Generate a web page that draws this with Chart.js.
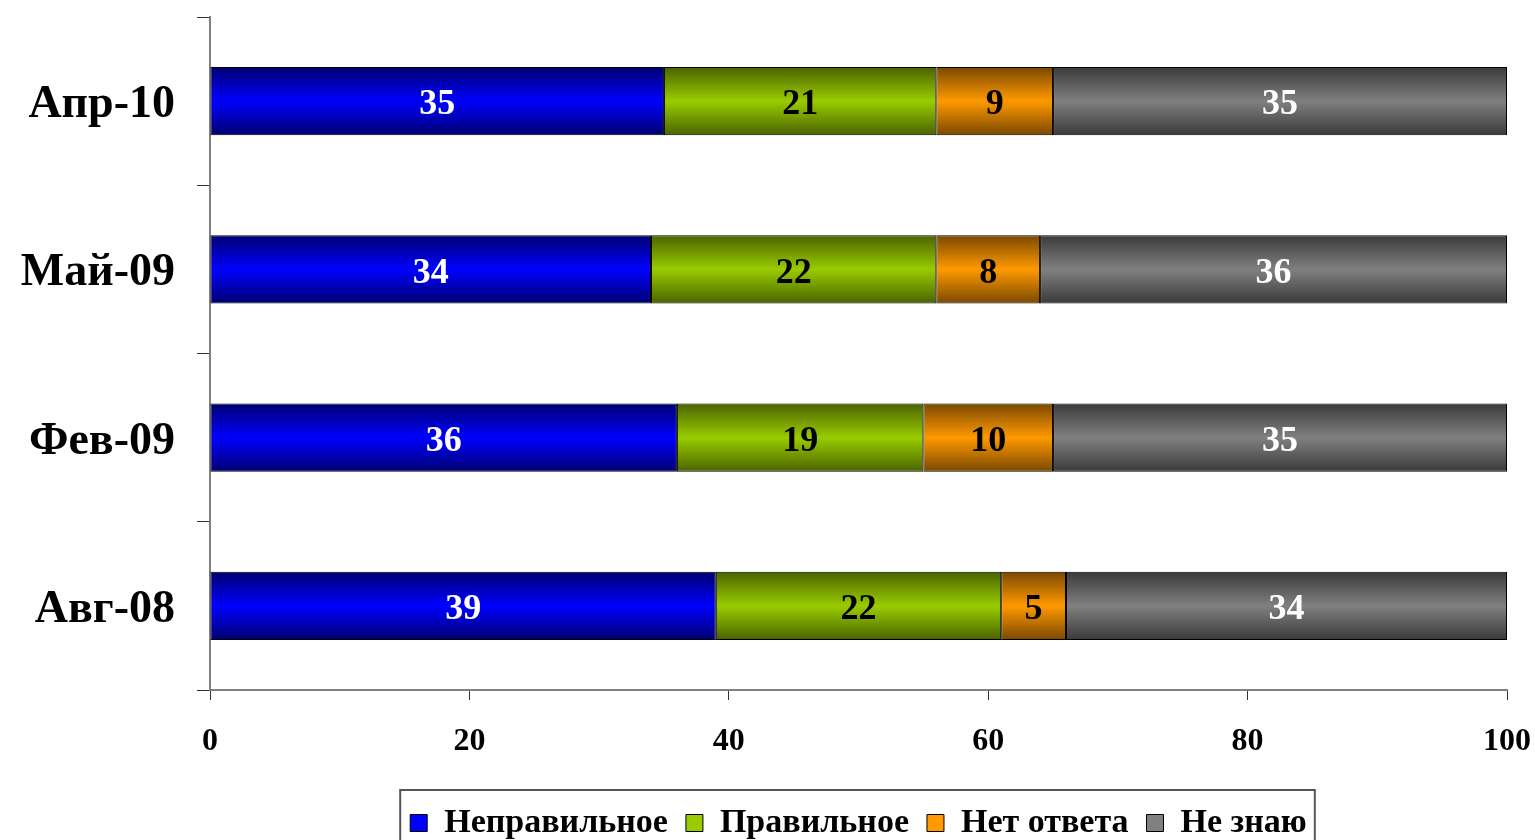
<!DOCTYPE html>
<html>
<head>
<meta charset="utf-8">
<script src="https://cdn.jsdelivr.net/npm/chart.js@4"></script>
<style>
    html, body { margin: 0; padding: 0; background: #fff; }
    #wrap { width: 1535px; height: 840px; }
</style>
</head>
<body>
<div id="wrap"><canvas id="myChart" width="1535" height="840"></canvas></div>
<script>
const categories = ["Апр-10", "Май-09", "Фев-09", "Авг-08"];
const seriesNames = ["Неправильное", "Правильное", "Нет ответа", "Не знаю"];
const wrongValues = [35, 34, 36, 39];
const rightValues = [21, 22, 19, 22];
const noAnswerValues = [9, 8, 10, 5];
const dontKnowValues = [35, 36, 35, 34];
const xTicks = [0, 20, 40, 60, 80, 100];

const brightColors = ["#0000ff", "#99cc00", "#ff9900", "#808080"];
const darkColors = ["#000070", "#4a6300", "#7a4800", "#3a3a3a"];
const labelColors = ["#ffffff", "#000000", "#000000", "#ffffff"];
const barPct = 0.405;
const serif = "'Liberation Serif', 'Times New Roman', serif";

// vertical gradient for each bar: dark at the edges, bright in the middle
const barGradient = (ctx) => {
    const i = ctx.datasetIndex;
    const chart = ctx.chart;
    const yScale = chart.scales.y;
    if (ctx.type !== "data" || !yScale) return brightColors[i];
    const cy = yScale.getPixelForValue(ctx.dataIndex);
    const half = (yScale.height / categories.length) * barPct / 2;
    if (!isFinite(cy) || !isFinite(half) || half <= 0) return brightColors[i];
    const g = chart.ctx.createLinearGradient(0, cy - half, 0, cy + half);
    g.addColorStop(0, darkColors[i]);
    g.addColorStop(0.5, brightColors[i]);
    g.addColorStop(1, darkColors[i]);
    return g;
};

// values written in the middle of each segment
const valueLabels = {
    id: "valueLabels",
    afterDatasetsDraw(chart) {
        const c = chart.ctx;
        c.save();
        c.font = "bold 36px " + serif;
        c.textAlign = "center";
        c.textBaseline = "middle";
        chart.data.datasets.forEach((ds, di) => {
            const meta = chart.getDatasetMeta(di);
            meta.data.forEach((el, j) => {
                c.fillStyle = labelColors[di];
                c.fillText(ds.data[j], (el.x + el.base) / 2, el.y + 4);
            });
        });
        c.restore();
    }
};

// legend centred under the plot area, with a frame round it
const legendFrame = {
    id: "legendFrame",
    afterLayout(chart) {
        const lg = chart.legend;
        if (!lg) return;
        lg.left = chart.chartArea.left;
        lg.right = chart.chartArea.right;
        lg.width = lg.right - lg.left;
    },
    afterDraw(chart) {
        const lg = chart.legend;
        if (!lg || !lg.legendHitBoxes || !lg.legendHitBoxes.length) return;
        const boxes = lg.legendHitBoxes;
        const first = boxes[0];
        const last = boxes[boxes.length - 1];
        const c = chart.ctx;
        c.save();
        c.strokeStyle = "#555555";
        c.lineWidth = 2;
        c.strokeRect(first.left - 10, lg.top + 2, last.left + last.width - first.left + 18, 80);
        c.restore();
    }
};

const ctx = document.getElementById("myChart").getContext("2d");
const myChart = new Chart(ctx, {
    type: "bar",
    data: {
        labels: categories,
        datasets: [wrongValues, rightValues, noAnswerValues, dontKnowValues].map((vals, i) => ({
            label: seriesNames[i],
            data: vals,
            backgroundColor: barGradient,
            borderColor: "#000000",
            borderWidth: 1,
            borderSkipped: false,
            barPercentage: barPct,
            categoryPercentage: 1
        }))
    },
    options: {
        indexAxis: "y",
        responsive: false,
        animation: false,
        devicePixelRatio: 1,
        layout: { padding: { left: 0, right: 28, top: 17, bottom: -10 } },
        scales: {
            x: {
                stacked: true,
                min: 0,
                max: 100,
                afterBuildTicks: (scale) => {
                    scale.ticks = xTicks.map(v => ({ value: v }));
                },
                afterFit: (scale) => {
                    scale.height = 98;
                    scale.paddingLeft = 0;
                    scale.paddingRight = 0;
                },
                grid: {
                    drawOnChartArea: false,
                    drawTicks: true,
                    tickLength: 10,
                    color: "#303030"
                },
                border: { color: "#808080", width: 2 },
                ticks: {
                    color: "#000",
                    padding: 23,
                    maxRotation: 0,
                    font: { family: serif, size: 32, weight: "bold" }
                }
            },
            y: {
                stacked: true,
                afterFit: (scale) => {
                    scale.width = 210;
                    scale.paddingTop = 0;
                    scale.paddingBottom = 0;
                },
                grid: {
                    offset: true,
                    drawOnChartArea: false,
                    drawTicks: true,
                    tickLength: 13,
                    color: "#303030"
                },
                border: { color: "#808080", width: 2 },
                ticks: {
                    color: "#000",
                    padding: 22,
                    labelOffset: 4,
                    font: { family: serif, size: 46, weight: "bold" }
                }
            }
        },
        plugins: {
            tooltip: { enabled: false },
            legend: {
                position: "bottom",
                labels: {
                    color: "#000",
                    boxWidth: 17,
                    boxHeight: 17,
                    padding: 18,
                    font: { family: serif, size: 34, weight: "bold" },
                    generateLabels: (chart) => seriesNames.map((name, i) => ({
                        text: name,
                        fillStyle: brightColors[i],
                        strokeStyle: "#000000",
                        lineWidth: 1,
                        hidden: false,
                        datasetIndex: i,
                        fontColor: "#000"
                    }))
                }
            }
        }
    },
    plugins: [valueLabels, legendFrame]
});
</script>
</body>
</html>
